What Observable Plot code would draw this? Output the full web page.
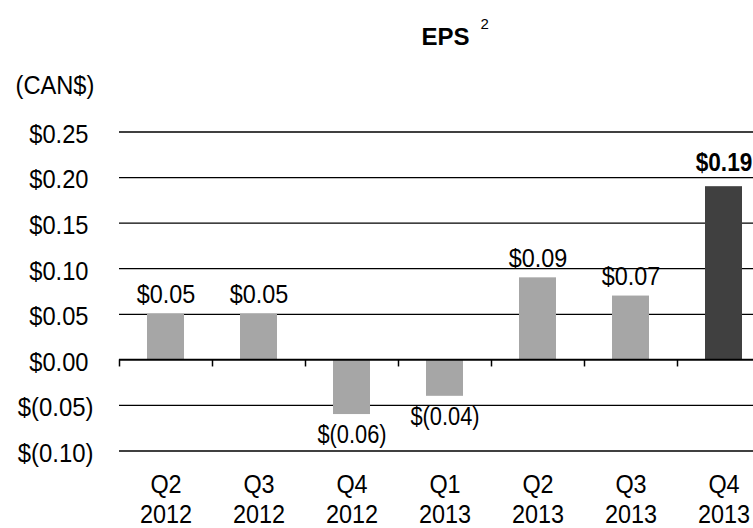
<!DOCTYPE html>
<html>
<head>
<meta charset="utf-8">
<script src="https://cdn.jsdelivr.net/npm/d3@7"></script>
<script src="https://cdn.jsdelivr.net/npm/@observablehq/plot@0.6"></script>
<style>
  html, body { margin: 0; padding: 0; background: #fff; }
  #chart svg { display: block; }
</style>
</head>
<body>
<div id="chart"></div>
<script>
// ---- data ----
const quarters = ["Q2\n2012", "Q3\n2012", "Q4\n2012", "Q1\n2013", "Q2\n2013", "Q3\n2013", "Q4\n2013"];
const eps = [0.05, 0.05, -0.06, -0.04, 0.09, 0.07, 0.19];
const currentQuarter = "Q4\n2013";
const yTicks = [0.25, 0.20, 0.15, 0.10, 0.05, 0.00, -0.05, -0.10];
const title = "EPS";
const titleNote = "2";
const unitLabel = "(CAN$)";

const data = quarters.map((q, i) => ({q, v: eps[i]}));
const fmt = v => v < 0 ? `$(${(-v).toFixed(2)})` : `$${v.toFixed(2)}`;
const sans = "'Liberation Sans', Arial, sans-serif";

const chart = Plot.plot({
  width: 753,
  height: 528,
  marginLeft: 119,
  marginRight: 0,
  marginTop: 131.5,
  marginBottom: 77.5,
  style: {fontFamily: sans, fontSize: "26px", background: "#fff", overflow: "visible"},
  x: {type: "band", domain: quarters, range: [119, 770], paddingInner: 0.6, paddingOuter: 0.3, axis: null},
  y: {domain: [-0.10, 0.25], axis: null},
  marks: [
    Plot.ruleY(yTicks.filter(v => v !== 0), {stroke: "#000", strokeWidth: 1.3}),
    Plot.barY(data.filter(d => d.q !== currentQuarter), {x: "q", y: "v", fill: "#a6a6a6"}),
    Plot.barY(data.filter(d => d.q === currentQuarter), {x: "q", y: "v", fill: "#404040"}),
    Plot.ruleY([0], {stroke: "#000", strokeWidth: 2}),
    Plot.ruleX(quarters, {x: d => d, y1: 0, y2: -0.0078, dx: -46.5, stroke: "#000", strokeWidth: 1.5}),
    // value labels
    Plot.text(data.filter(d => d.v >= 0 && d.q !== currentQuarter), {ariaDescription: "value-pos", x: "q", y: "v", text: d => fmt(d.v), lineAnchor: "bottom", dy: -11, fontSize: 26, fill: "#000"}),
    Plot.text(data.filter(d => d.q === currentQuarter), {ariaDescription: "value-current", x: "q", y: "v", text: d => fmt(d.v), lineAnchor: "bottom", dy: -16, fontSize: 26, fontWeight: "bold", fill: "#000"}),
    Plot.text(data.filter(d => d.v < 0), {ariaDescription: "value-neg", x: "q", y: "v", text: d => fmt(d.v), lineAnchor: "top", dy: 10, fontSize: 26, fill: "#000"}),
    // x labels
    Plot.text(quarters, {ariaDescription: "xlabel", x: d => d, y: -0.10, text: d => d, lineAnchor: "top", dy: 21, lineHeight: 1.15, fontSize: 26, fill: "#000"}),
    // y labels
    Plot.text(yTicks.filter(v => v >= 0), {ariaDescription: "ytick-pos", y: d => d, frameAnchor: "left", text: fmt, textAnchor: "end", dx: -31, dy: 2.5, fontSize: 26, fill: "#000"}),
    Plot.text(yTicks.filter(v => v < 0), {ariaDescription: "ytick-neg", y: d => d, frameAnchor: "left", text: fmt, textAnchor: "end", dx: -26, dy: 2.5, fontSize: 26, fill: "#000"}),
    // title, note, unit
    Plot.text([title], {frameAnchor: "top-left", text: d => d, textAnchor: "middle", lineAnchor: "top", dx: 326, dy: -104.5, fontSize: 24, fontWeight: "bold", fill: "#000"}),
    Plot.text([titleNote], {frameAnchor: "top-left", text: d => d, textAnchor: "start", lineAnchor: "top", dx: 361, dy: -113.5, fontSize: 15, fill: "#000"}),
    Plot.text([unitLabel], {ariaDescription: "unit", frameAnchor: "top-left", text: d => d, textAnchor: "start", lineAnchor: "top", dx: -104, dy: -56.5, fontSize: 26, fill: "#000"})
  ]
});
document.getElementById("chart").appendChild(chart);

// emulate the condensed (Arial Narrow-like) face of the original
const condense = {
  "ytick-pos": 0.91, "ytick-neg": 0.92,
  "value-pos": 0.90, "value-neg": 0.84, "value-current": 0.87,
  "xlabel": 0.90, "unit": 0.91
};
for (const [label, f] of Object.entries(condense)) {
  chart.querySelectorAll(`g[aria-description="${label}"] text`).forEach(t => {
    const spans = t.querySelectorAll("tspan");
    const els = spans.length ? Array.from(spans) : [t];
    els.forEach(el => {
      const w = el.getComputedTextLength();
      el.setAttribute("textLength", (w * f).toFixed(2));
      el.setAttribute("lengthAdjust", "spacingAndGlyphs");
    });
  });
}
</script>
</body>
</html>
